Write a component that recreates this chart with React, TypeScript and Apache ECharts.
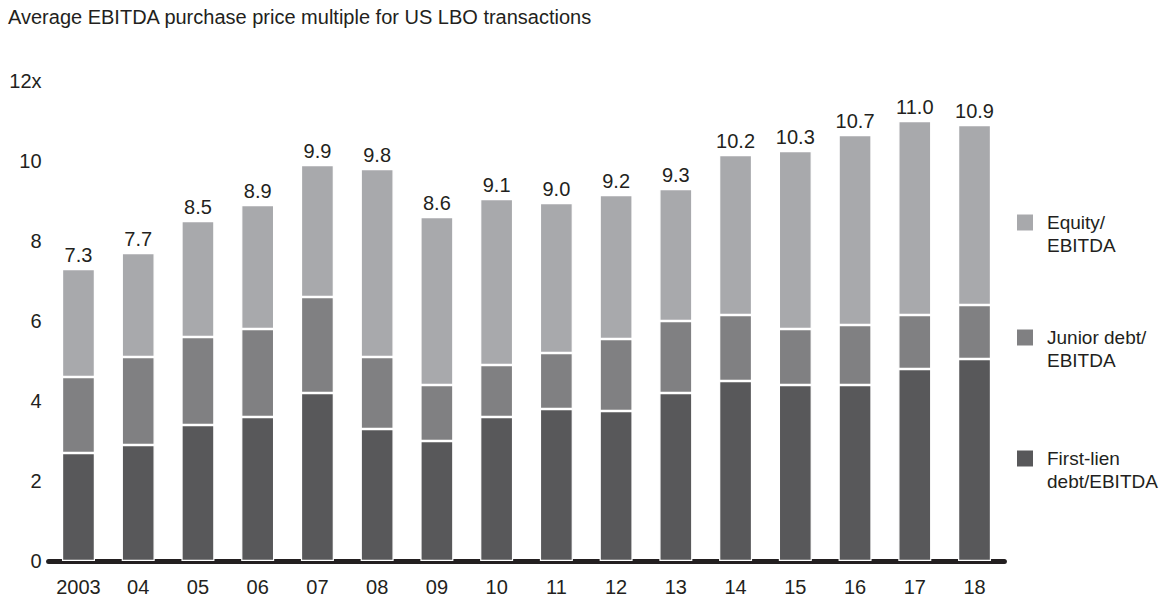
import React, { useEffect, useRef } from "react";
import * as echarts from "echarts";

const years = ["2003", "04", "05", "06", "07", "08", "09", "10", "11", "12", "13", "14", "15", "16", "17", "18"];
const firstLien = [2.7, 2.9, 3.4, 3.6, 4.2, 3.3, 3.0, 3.6, 3.8, 3.75, 4.2, 4.5, 4.4, 4.4, 4.8, 5.05];
const juniorDebt = [1.9, 2.2, 2.2, 2.2, 2.4, 1.8, 1.4, 1.3, 1.4, 1.8, 1.8, 1.65, 1.4, 1.5, 1.35, 1.35];
const equity = [2.7, 2.6, 2.9, 3.1, 3.3, 4.7, 4.2, 4.15, 3.75, 3.6, 3.3, 4.0, 4.45, 4.75, 4.85, 4.5];
const totals = ["7.3", "7.7", "8.5", "8.9", "9.9", "9.8", "8.6", "9.1", "9.0", "9.2", "9.3", "10.2", "10.3", "10.7", "11.0", "10.9"];
const yTicks = [0, 2, 4, 6, 8, 10, 12];

const FONT = "'Liberation Sans', Arial, Helvetica, sans-serif";
const TEXT = "#231f20";
const C_FIRST = "#58585a";
const C_JUNIOR = "#808082";
const C_EQUITY = "#a8a9ac";

export default function App() {
  const ref = useRef<HTMLDivElement>(null);
  useEffect(() => {
    if (!ref.current) return;
    const chart = echarts.init(ref.current, null, { renderer: "svg" });
    const legendText = {
      color: TEXT,
      fontFamily: FONT,
      fontSize: 19,
      lineHeight: 23,
      padding: [0, 0, 0, 8],
    };
    const mkLegend = (name: string, top: number, left: number) => ({
      data: [name],
      left,
      top,
      padding: 0,
      orient: "vertical",
      itemWidth: 18,
      itemHeight: 18,
      itemGap: 0,
      icon: "rect",
      selectedMode: false,
      textStyle: legendText,
      formatter: (n: string) => " \n" + n,
    });
    const itemBorder = { borderColor: "#ffffff", borderWidth: 1.2 };
    chart.setOption({
      animation: false,
      backgroundColor: "#ffffff",
      textStyle: { fontFamily: FONT, color: TEXT },
      title: {
        text: "Average EBITDA purchase price multiple for US LBO transactions",
        left: 8,
        top: 7,
        padding: 0,
        textStyle: { fontFamily: FONT, fontSize: 20, fontWeight: "normal", color: TEXT },
      },
      legend: [
        mkLegend("Equity/\nEBITDA", 188, 1015),
        mkLegend("Junior debt/\nEBITDA", 303, 1015),
        mkLegend("First-lien\ndebt/EBITDA", 424, 1015),
      ],
      grid: { left: 48.6, right: 158.6, top: 81, bottom: 36, containLabel: false },
      xAxis: {
        type: "category",
        data: years,
        offset: 3,
        axisLine: { show: true, lineStyle: { color: TEXT, width: 5 } },
        axisTick: { show: false },
        axisLabel: { color: TEXT, fontFamily: FONT, fontSize: 20, margin: 13 },
        splitLine: { show: false },
      },
      yAxis: {
        type: "value",
        min: yTicks[0],
        max: yTicks[yTicks.length - 1],
        interval: 2,
        axisLine: { show: false },
        axisTick: { show: false },
        splitLine: { show: false },
        axisLabel: {
          color: TEXT,
          fontFamily: FONT,
          fontSize: 20,
          margin: 7,
          formatter: (v: number) => (v === 12 ? "12x" : String(v)),
        },
      },
      series: [
        {
          name: "First-lien\ndebt/EBITDA",
          type: "bar",
          stack: "total",
          barWidth: 33,
          data: firstLien,
          itemStyle: { color: C_FIRST, ...itemBorder },
        },
        {
          name: "Junior debt/\nEBITDA",
          type: "bar",
          stack: "total",
          barWidth: 33,
          data: juniorDebt,
          itemStyle: { color: C_JUNIOR, ...itemBorder },
        },
        {
          name: "Equity/\nEBITDA",
          type: "bar",
          stack: "total",
          barWidth: 33,
          data: equity,
          itemStyle: { color: C_EQUITY, ...itemBorder },
          label: {
            show: true,
            position: "top",
            distance: 4,
            color: TEXT,
            fontFamily: FONT,
            fontSize: 20,
            formatter: (p: any) => totals[p.dataIndex],
          },
        },
      ],
    });
    return () => chart.dispose();
  }, []);
  return <div ref={ref} style={{ width: 1163, height: 597, position: "absolute", left: 0, top: 0 }} />;
}
